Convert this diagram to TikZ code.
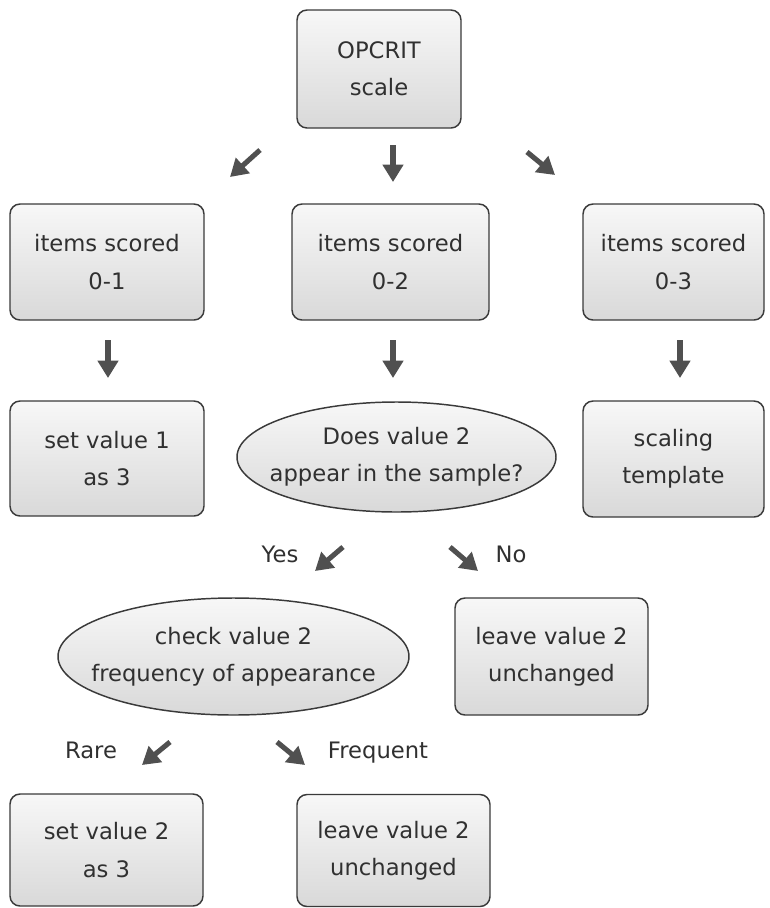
\documentclass[tikz,border=0pt]{standalone}
\usepackage{fontspec}
\setmainfont{DejaVu Sans}
\usetikzlibrary{arrows.meta,shapes.geometric}
\definecolor{txt}{HTML}{303030}
\definecolor{edge}{HTML}{3A3A3A}
\definecolor{arr}{HTML}{505050}
\tikzset{
  base/.style={draw=edge, line width=1.1pt, text=txt, align=center,
    font=\fontsize{17}{28}\selectfont, inner sep=0pt,
    top color=white!97!black, bottom color=black!15},
  box/.style={base, rectangle, rounded corners=7.5pt},
  oval/.style={base, ellipse, inner xsep=-80pt, inner ysep=-20pt},
  lab/.style={text=txt, font=\fontsize{17}{28}\selectfont, inner sep=0pt, anchor=base},
  blockarrow/.style={draw=arr, line width=3.8pt,
    -{Triangle[width=15pt,length=13pt]}},
}
\begin{document}
\begin{tikzpicture}[x=0.75pt,y=-0.75pt]
\useasboundingbox (0,0) rectangle (769,908);
% boxes
\node[box, minimum width=164*0.75pt, minimum height=118*0.75pt] (opcrit) at (379,69) {OPCRIT\\scale};
\node[box, minimum width=194*0.75pt, minimum height=116*0.75pt] (b01) at (107,262) {items scored\\0-1};
\node[box, minimum width=197*0.75pt, minimum height=116*0.75pt] (b02) at (390.5,262) {items scored\\0-2};
\node[box, minimum width=181*0.75pt, minimum height=116*0.75pt] (b03) at (673.5,262) {items scored\\0-3};
\node[box, minimum width=194*0.75pt, minimum height=115*0.75pt] (set1) at (107,458.5) {set value 1\\as 3};
\node[oval, minimum width=319*0.75pt, minimum height=110*0.75pt] (q1) at (396.5,457) {Does value 2\\appear in the sample?};
\node[box, minimum width=181*0.75pt, minimum height=116*0.75pt] (tmpl) at (673.5,459) {scaling\\template};
\node[oval, minimum width=351*0.75pt, minimum height=117*0.75pt] (q2) at (233.5,656.5) {check value 2\\frequency of appearance};
\node[box, minimum width=193*0.75pt, minimum height=117*0.75pt] (leave1) at (551.5,656.5) {leave value 2\\unchanged};
\node[box, minimum width=193*0.75pt, minimum height=112*0.75pt] (set2) at (106.5,850) {set value 2\\as 3};
\node[box, minimum width=193*0.75pt, minimum height=112*0.75pt] (leave2) at (393.5,850.5) {leave value 2\\unchanged};
% labels
\node[lab] (yes) at (280,562) {Yes};
\node[lab] (no) at (511,562) {No};
\node[lab] (rare) at (91,758) {Rare};
\node[lab] (freq) at (378,758) {Frequent};
% arrow coordinates
\coordinate (a1s) at (260,150); \coordinate (a1e) at (230,177);
\coordinate (a2s) at (393,145); \coordinate (a2e) at (393,182);
\coordinate (a3s) at (527,152); \coordinate (a3e) at (555,175);
\coordinate (a4s) at (108,340); \coordinate (a4e) at (108,378);
\coordinate (a5s) at (393,340); \coordinate (a5e) at (393,378);
\coordinate (a6s) at (680,340); \coordinate (a6e) at (680,378);
\coordinate (a7s) at (343,547); \coordinate (a7e) at (315,571);
\coordinate (a8s) at (450,547); \coordinate (a8e) at (478,571);
\coordinate (a9s) at (170,742); \coordinate (a9e) at (142,765);
\coordinate (a10s) at (277,742); \coordinate (a10e) at (305,765);
\draw[blockarrow] (a1s) -- (a1e);
\draw[blockarrow] (a2s) -- (a2e);
\draw[blockarrow] (a3s) -- (a3e);
\draw[blockarrow] (a4s) -- (a4e);
\draw[blockarrow] (a5s) -- (a5e);
\draw[blockarrow] (a6s) -- (a6e);
\draw[blockarrow] (a7s) -- (a7e);
\draw[blockarrow] (a8s) -- (a8e);
\draw[blockarrow] (a9s) -- (a9e);
\draw[blockarrow] (a10s) -- (a10e);
\end{tikzpicture}
\end{document}
